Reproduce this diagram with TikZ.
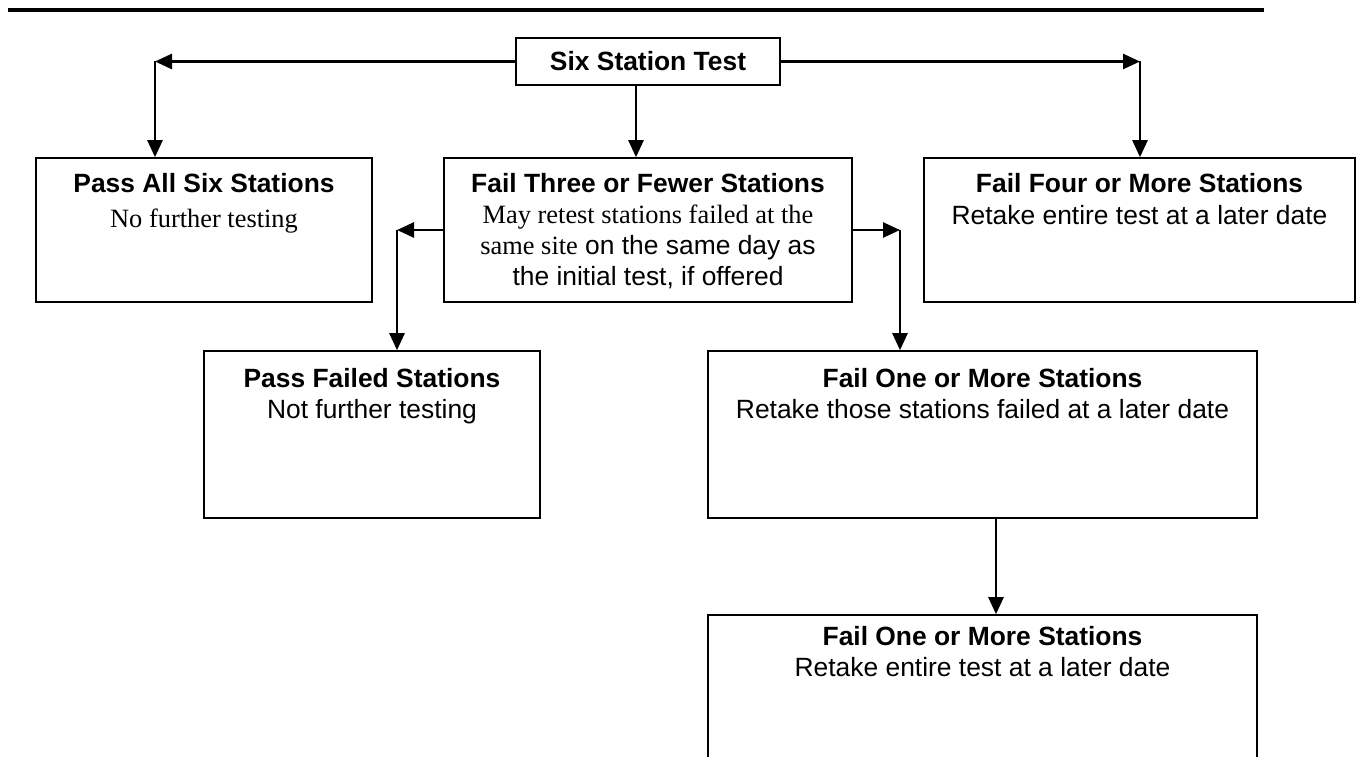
\documentclass[tikz,border=0pt]{standalone}
\usepackage{fontspec}
\setmainfont{Liberation Serif}
\newfontfamily\arial{Liberation Sans}
\usetikzlibrary{arrows.meta}
\begin{document}
\begin{tikzpicture}[x=1pt,y=-1pt,
  box/.style n args={2}{draw, line width=1.6pt, inner sep=0pt, minimum width=#1, minimum height=#2},
  txt/.style={anchor=north, inner sep=0pt, align=center, font={\arial\fontsize{26.4}{31}\selectfont}},
  conn/.style={line width=2.6pt, -{Triangle[length=17pt,width=15pt]}}
]
\useasboundingbox (0,0) rectangle (1357,757);
% top rule
\coordinate (rl) at (8,10);
\coordinate (rr) at (1264,10);
\draw[line width=4pt] (rl) -- (rr);

% boxes
\node[box={264pt}{47pt}, txt, anchor=center, font={\arial\bfseries\fontsize{26.4}{31}\selectfont}] (six) at (648,61.5) {Six Station Test};
\node[box={336pt}{144pt}] (pass) at (204,230) {};
\node[box={408pt}{144pt}] (three) at (648,230) {};
\node[box={431pt}{144pt}] (four) at (1139.5,230) {};
\node[box={336pt}{167pt}] (pfail) at (372,434.5) {};
\node[box={549pt}{167pt}] (fone) at (982.5,434.5) {};
\node[box={549pt}{160pt}] (fbot) at (982.5,695) {};

% texts
\node[txt] (passT) at (204,170.3) {\strut\bfseries Pass All Six Stations\\[4pt] \rmfamily No further testing};
\node[txt] (threeT) at (648,170.3) {\strut\bfseries Fail Three or Fewer Stations\\ {\rmfamily May retest stations failed at the}\\ {\rmfamily same site} on the same day as\\ the initial test, if offered};
\node[txt] (fourT) at (1139.5,170.3) {\strut\bfseries Fail Four or More Stations\\[1pt] \mdseries Retake entire test at a later date};
\node[txt] (pfailT) at (372,365.3) {\strut\bfseries Pass Failed Stations\\ \mdseries Not further testing};
\node[txt] (foneT) at (982.5,365.3) {\strut\bfseries Fail One or More Stations\\ \mdseries Retake those stations failed at a later date};
\node[txt] (fbotT) at (982.5,623.3) {\strut\bfseries Fail One or More Stations\\ \mdseries Retake entire test at a later date};

% corner coordinates
\coordinate (c1) at (155,61.5);
\coordinate (c2) at (1140,61.5);
\coordinate (c3) at (397,230);
\coordinate (c4) at (900,230);

% connectors
\draw[conn] (six.west) -- (c1);
\draw[conn] (c1) -- (c1 |- pass.north);
\draw[conn] (six.east) -- (c2);
\draw[conn] (c2) -- (c2 |- four.north);
\draw[conn] ([xshift=-12pt]six.south) -- ([xshift=-12pt]three.north);
\draw[conn] (three.west) -- (c3);
\draw[conn] (c3) -- (c3 |- pfail.north);
\draw[conn] (three.east) -- (c4);
\draw[conn] (c4) -- (c4 |- fone.north);
\draw[conn] ([xshift=13.5pt]fone.south) -- ([xshift=13.5pt]fbot.north);
\end{tikzpicture}
\end{document}
